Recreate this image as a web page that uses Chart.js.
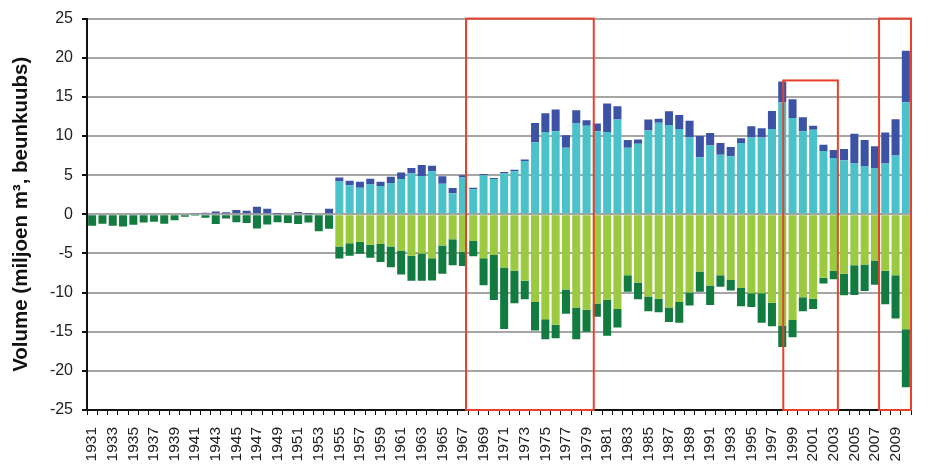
<!DOCTYPE html>
<html>
<head>
<meta charset="utf-8">
<script src="https://cdn.jsdelivr.net/npm/chart.js@4.4.1/dist/chart.umd.min.js"></script>
<style>
  body { margin: 0; background: #fff; }
  #wrap { width: 942px; height: 465px; overflow: hidden; }
</style>
</head>
<body>
<div id="wrap"><canvas id="volChart" width="942" height="472"></canvas></div>
<script>
// jaren 1931 t/m 2010
const years = Array.from({ length: 80 }, (_, i) => String(1931 + i));

// positief deel: lichtblauw (onder) + donkerblauw (boven)
const lightBlue = [
    0, 0, 0, 0, 0, 0, 0, 0, 0, 0, 0, 0, 0, 0, 0, 0, 0, 0, 0, 0, 0, 0, 0, 0,
    4.2, 3.7, 3.4, 3.8, 3.6, 4.0, 4.5, 5.2, 4.9, 5.5,
    3.9, 2.7, 4.7, 3.2, 5.0, 4.5, 5.2, 5.5, 6.8, 9.2,
    10.5, 10.6, 8.5, 11.6, 11.3, 10.6, 10.5, 12.1, 8.5, 9.0,
    10.7, 11.7, 11.4, 10.9, 9.8, 7.3, 8.8, 7.6, 7.4, 9.1,
    9.8, 9.8, 10.9, 14.3, 12.3, 10.6, 10.8, 8.1, 7.2, 6.9,
    6.5, 6.1, 5.9, 6.5, 7.5, 14.3
];
const darkBlue = [
    0, 0, 0, 0, 0, 0, 0, 0, 0, 0,
    0.1, 0.2, 0.35, 0.25, 0.55, 0.45, 0.95, 0.7, 0.05, 0, 0.3, 0.05, 0, 0.7,
    0.5, 0.6, 0.75, 0.75, 0.55, 0.8, 0.85, 0.7, 1.4, 0.7,
    0.95, 0.65, 0.3, 0.2, 0.15, 0.15, 0.2, 0.2, 0.2, 2.45,
    2.4, 2.8, 1.6, 1.7, 0.7, 1.0, 3.65, 1.7, 1.0, 0.55,
    1.4, 0.5, 1.75, 1.8, 2.15, 2.7, 1.6, 1.5, 1.2, 0.6,
    1.45, 1.2, 2.3, 2.65, 2.4, 1.8, 0.5, 0.8, 1.0, 1.45,
    3.8, 3.4, 2.8, 3.95, 4.65, 6.6
];

// negatief deel: lichtgroen (boven) + donkergroen (onder)
const lightGreen = [
    0, 0, 0, 0, 0, 0, 0, 0, 0, 0, 0, 0, 0, 0, 0, 0, 0, 0, 0, 0, 0, 0, 0, 0,
    -4.1, -3.7, -3.5, -3.9, -3.8, -4.1, -4.7, -5.3, -5.0, -5.6,
    -4.0, -3.2, -4.8, -3.4, -5.6, -5.2, -6.8, -7.2, -8.5, -11.2,
    -13.4, -14.1, -9.6, -11.9, -12.2, -11.4, -10.9, -12.1, -7.8, -8.7,
    -10.5, -10.8, -11.9, -11.2, -10.0, -7.3, -9.1, -7.8, -8.4, -9.4,
    -10.1, -10.1, -11.3, -14.2, -13.5, -10.6, -10.8, -8.1, -7.2, -7.6,
    -6.5, -6.4, -5.9, -7.2, -7.8, -14.7
];
const darkGreen = [
    -1.45, -1.2, -1.45, -1.55, -1.35, -1.05, -0.95, -1.2, -0.75, -0.3,
    -0.2, -0.45, -1.25, -0.55, -1.0, -1.1, -1.8, -1.3, -1.0, -1.1, -1.25, -1.05, -2.15, -1.85,
    -1.55, -1.6, -1.55, -1.65, -2.3, -2.65, -3.0, -3.2, -3.5, -2.85,
    -3.6, -3.3, -1.8, -1.95, -3.45, -5.75, -7.85, -4.15, -2.35, -3.65,
    -2.55, -1.75, -3.1, -4.05, -2.8, -1.7, -4.6, -2.35, -2.1, -2.15,
    -1.9, -1.7, -1.85, -2.65, -1.65, -2.6, -2.5, -1.45, -1.35, -2.35,
    -1.75, -3.75, -3.0, -2.75, -2.2, -1.8, -1.3, -0.75, -1.1, -2.75,
    -3.8, -3.4, -3.1, -4.3, -5.5, -7.4
];

// rode kaders (in jaartallen) en bovenkant (in miljoen m3)
const boxFrom = [1967.3, 1998.1, 2007.4];
const boxTo = [1979.7, 2003.4, 2010.5];
const boxTop = [25, 17.1, 25];

const redBoxes = {
    id: 'redBoxes',
    afterDatasetsDraw(chart) {
        const { ctx, scales: { x, y } } = chart;
        ctx.save();
        ctx.strokeStyle = '#e8402c';
        ctx.lineWidth = 2;
        for (let i = 0; i < boxFrom.length; i++) {
            const x1 = x.getPixelForValue(boxFrom[i] - 1931);
            const x2 = x.getPixelForValue(boxTo[i] - 1931);
            const y1 = y.getPixelForValue(boxTop[i]);
            const y2 = y.getPixelForValue(-25);
            ctx.strokeRect(x1, y1, x2 - x1, y2 - y1);
        }
        ctx.restore();
    }
};

Chart.defaults.font.family = '"Liberation Sans", Arial, sans-serif';
Chart.defaults.color = '#222';

const ctx = document.getElementById('volChart').getContext('2d');
new Chart(ctx, {
    type: 'bar',
    data: {
        labels: years,
        datasets: [
            { label: 'lichtblauw', data: lightBlue, backgroundColor: '#4bc1c9' },
            { label: 'donkerblauw', data: darkBlue, backgroundColor: '#3c52a4' },
            { label: 'lichtgroen', data: lightGreen, backgroundColor: '#9bc93f' },
            { label: 'donkergroen', data: darkGreen, backgroundColor: '#127b3f' }
        ]
    },
    options: {
        responsive: false,
        animation: false,
        layout: { padding: { top: 10, right: 31, bottom: 0, left: 0 } },
        datasets: {
            bar: { categoryPercentage: 1, barPercentage: 0.78, stack: 's' }
        },
        plugins: {
            legend: { display: false },
            tooltip: { enabled: false }
        },
        scales: {
            x: {
                stacked: true,
                afterFit(scale) { scale.height = 62; },
                border: { color: '#111', width: 2 },
                grid: { drawOnChartArea: false, tickLength: 5, tickColor: '#111' },
                ticks: {
                    autoSkip: false,
                    minRotation: 90,
                    maxRotation: 90,
                    padding: 12,
                    font: { size: 15.5 },
                    callback: (v, i) => (i % 2 === 0 ? years[i] : '')
                }
            },
            y: {
                stacked: true,
                min: -25,
                max: 25,
                afterFit(scale) { scale.width = 87; },
                border: { color: '#111', width: 2 },
                grid: { color: '#a6a6a6', lineWidth: 2, tickLength: 5, tickColor: '#111' },
                ticks: { stepSize: 5, padding: 9, font: { size: 16 } },
                title: {
                    display: true,
                    text: 'Volume (miljoen m³, beunkuubs)',
                    font: { size: 20.5, weight: 'bold' },
                    color: '#111',
                    padding: { top: 9, bottom: 0 }
                }
            }
        }
    },
    plugins: [redBoxes]
});
</script>
</body>
</html>
